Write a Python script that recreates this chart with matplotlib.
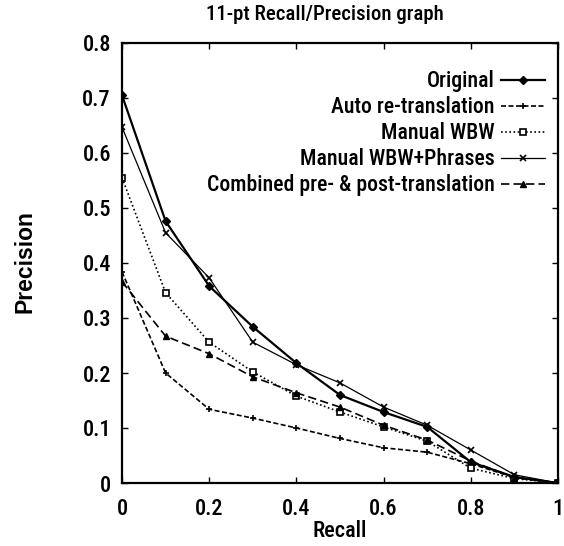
import matplotlib
matplotlib.use("Agg")
import matplotlib.pyplot as plt

plt.rcParams['font.family'] = ['Roboto Condensed', 'Liberation Sans', 'DejaVu Sans']
plt.rcParams['font.weight'] = 'medium'
plt.rcParams['axes.labelweight'] = 'medium'

recall = [0.0, 0.1, 0.2, 0.3, 0.4, 0.5, 0.6, 0.7, 0.8, 0.9, 1.0]
original = [0.705, 0.476, 0.358, 0.284, 0.218, 0.160, 0.129, 0.102, 0.038, 0.011, 0.0]
auto_retrans = [0.384, 0.200, 0.134, 0.118, 0.100, 0.081, 0.064, 0.056, 0.035, 0.010, 0.0]
manual_wbw = [0.555, 0.346, 0.256, 0.202, 0.158, 0.129, 0.102, 0.076, 0.027, 0.008, 0.0]
manual_phr = [0.647, 0.455, 0.373, 0.256, 0.215, 0.182, 0.138, 0.105, 0.060, 0.015, 0.0]
combined = [0.366, 0.267, 0.235, 0.193, 0.164, 0.138, 0.105, 0.078, 0.040, 0.010, 0.0]
labels = ["Original", "Auto re-translation", "Manual WBW", "Manual WBW+Phrases",
          "Combined pre- & post-translation"]
xticks = [0, 0.2, 0.4, 0.6, 0.8, 1]
xticklabels = ["0", "0.2", "0.4", "0.6", "0.8", "1"]
yticks = [0, 0.1, 0.2, 0.3, 0.4, 0.5, 0.6, 0.7, 0.8]
yticklabels = ["0", "0.1", "0.2", "0.3", "0.4", "0.5", "0.6", "0.7", "0.8"]

fig = plt.figure(figsize=(5.64, 5.46), dpi=100)
ax = fig.add_axes([122/564, 63/546, 436/564, 440/546])

ax.plot(recall, original, color='black', lw=1.6, ls='-', marker='D', ms=4.5, label=labels[0])
ax.plot(recall, auto_retrans, color='black', lw=1.2, ls=(0, (3, 1.5)), marker='+', ms=5, mew=1.2, label=labels[1])
ax.plot(recall, manual_wbw, color='black', lw=1.2, ls=(0, (1, 1.5)), marker='s', ms=4.5, mfc='white', mew=1.2, label=labels[2])
ax.plot(recall, manual_phr, color='black', lw=0.9, ls='-', marker='x', ms=5, mew=1.2, label=labels[3])
ax.plot(recall, combined, color='black', lw=1.2, ls=(0, (5, 2.5)), marker='^', ms=5, label=labels[4])

ax.set_xlim(0, 1)
ax.set_ylim(0, 0.8)
ax.set_xticks(xticks)
ax.set_xticklabels(xticklabels)
ax.set_yticks(yticks)
ax.set_yticklabels(yticklabels)
ax.tick_params(direction='in', top=True, right=True, length=4, width=1, labelsize=16)
ax.tick_params(axis='x', pad=11)
ax.tick_params(axis='y', pad=8)
for s in ax.spines.values():
    s.set_linewidth(1.6)

ax.set_xlabel("Recall", fontsize=16, labelpad=0)
fig.text(25/564, 1 - 262/546, "Precision", rotation=90, fontsize=16.5, weight='bold',
         family=['Liberation Sans', 'DejaVu Sans'], ha='center', va='center')
fig.text(325/564, 1 - 15/546, "11-pt Recall/Precision graph", fontsize=15, ha='center', va='center')

leg = ax.legend(loc='upper right', bbox_to_anchor=(0.995, 0.963), frameon=False, markerfirst=False,
                numpoints=1, handlelength=2.0, handletextpad=0.3, labelspacing=0.185, borderpad=0,
                fontsize=15.7)

fig.savefig("out.png", dpi=100)
